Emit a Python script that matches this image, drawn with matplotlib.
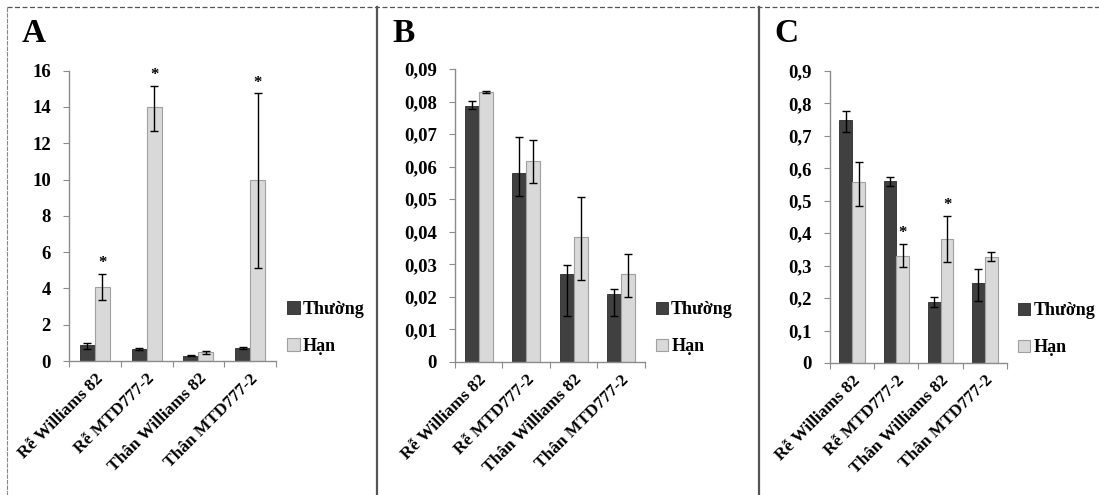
import numpy as np
import matplotlib.pyplot as plt
from matplotlib.lines import Line2D

plt.rcParams['font.family'] = ['Liberation Serif', 'DejaVu Serif']
plt.rcParams['font.weight'] = 'bold'

# 数据
categories = ['Rễ Williams 82', 'Rễ MTD777-2', 'Thân Williams 82', 'Thân MTD777-2']
series_names = ['Thường', 'Hạn']

# A
a_thuong = [0.88, 0.64, 0.28, 0.72]
a_thuong_lo = [0.24, 0.06, 0.03, 0.04]
a_thuong_hi = [0.13, 0.06, 0.03, 0.04]
a_han = [4.10, 14.02, 0.48, 9.97]
a_han_lo = [0.74, 1.35, 0.08, 4.86]
a_han_hi = [0.69, 1.13, 0.08, 4.78]
a_star = [True, True, False, True]
a_ticks = [0, 2, 4, 6, 8, 10, 12, 14, 16]
a_ticklabels = ['0', '2', '4', '6', '8', '10', '12', '14', '16']

# B
b_thuong = [0.0785, 0.0580, 0.0271, 0.0208]
b_thuong_lo = [0.0008, 0.0069, 0.0131, 0.0068]
b_thuong_hi = [0.0017, 0.0111, 0.0028, 0.0016]
b_han = [0.0829, 0.0616, 0.0384, 0.0271]
b_han_lo = [0.0002, 0.0066, 0.0131, 0.0071]
b_han_hi = [0.0002, 0.0065, 0.0123, 0.0062]
b_star = [False, False, False, False]
b_ticks = [0, 0.01, 0.02, 0.03, 0.04, 0.05, 0.06, 0.07, 0.08, 0.09]
b_ticklabels = ['0', '0,01', '0,02', '0,03', '0,04', '0,05', '0,06', '0,07', '0,08', '0,09']

# C
c_thuong = [0.748, 0.561, 0.188, 0.245]
c_thuong_lo = [0.036, 0.014, 0.016, 0.053]
c_thuong_hi = [0.029, 0.013, 0.016, 0.046]
c_han = [0.558, 0.330, 0.383, 0.328]
c_han_lo = [0.074, 0.033, 0.072, 0.015]
c_han_hi = [0.061, 0.036, 0.070, 0.014]
c_star = [False, True, True, False]
c_ticks = [0, 0.1, 0.2, 0.3, 0.4, 0.5, 0.6, 0.7, 0.8, 0.9]
c_ticklabels = ['0', '0,1', '0,2', '0,3', '0,4', '0,5', '0,6', '0,7', '0,8', '0,9']

dark = '#404040'
light = '#d9d9d9'
axis_gray = '#8c8c8c'

fig = plt.figure(figsize=(10.99, 4.95), dpi=100)

# 边框
fig.add_artist(Line2D([0.006, 1.0], [0.986, 0.986], color='#555555', lw=0.9, ls=(0, (4, 2))))
fig.add_artist(Line2D([0.006, 0.006], [0.0, 0.986], color='#888888', lw=0.8, ls=(0, (4, 1))))
fig.add_artist(Line2D([0.343, 0.343], [0.0, 0.986], color='#555555', lw=1.6))
fig.add_artist(Line2D([0.691, 0.691], [0.0, 0.986], color='#555555', lw=1.6))

panels = [
    ('A', 0.020, [0.0628, 0.2707, 0.1884, 0.5865], a_thuong, a_thuong_lo, a_thuong_hi,
     a_han, a_han_lo, a_han_hi, a_star, a_ticks, a_ticklabels),
    ('B', 0.357, [0.4140, 0.2687, 0.1729, 0.5919], b_thuong, b_thuong_lo, b_thuong_hi,
     b_han, b_han_lo, b_han_hi, b_star, b_ticks, b_ticklabels),
    ('C', 0.705, [0.7552, 0.2667, 0.1611, 0.5899], c_thuong, c_thuong_lo, c_thuong_hi,
     c_han, c_han_lo, c_han_hi, c_star, c_ticks, c_ticklabels),
]

x = np.arange(len(categories))
w = 0.29

for letter, lx, rect, th, th_lo, th_hi, hn, hn_lo, hn_hi, stars, ticks, ticklabels in panels:
    ax = fig.add_axes(rect)
    ax.bar(x - w / 2, th, w, color=dark, edgecolor='#2a2a2a', lw=0.6,
           yerr=[th_lo, th_hi], capsize=3, error_kw=dict(ecolor='black', elinewidth=1, capthick=1),
           label=series_names[0])
    ax.bar(x + w / 2, hn, w, color=light, edgecolor='#a0a0a0', lw=0.8,
           yerr=[hn_lo, hn_hi], capsize=3, error_kw=dict(ecolor='black', elinewidth=1, capthick=1),
           label=series_names[1])
    for i, s in enumerate(stars):
        if s:
            ax.annotate('*', (x[i] + w / 2, hn[i] + hn_hi[i]), xytext=(0, 2),
                        textcoords='offset points', ha='center', va='bottom', fontsize=12)

    ax.set_xlim(-0.5, 3.5)
    ax.set_ylim(ticks[0], ticks[-1])
    ax.set_yticks(ticks)
    ax.set_yticklabels(ticklabels, fontsize=13.5, fontweight='bold')
    ax.set_xticks(np.arange(-0.5, 4.0, 1.0))
    ax.set_xticklabels([])
    ax.set_xticks(x, minor=True)
    ax.set_xticklabels(categories, minor=True, rotation=45, ha='right',
                       rotation_mode='anchor', fontsize=12.5, fontweight='bold')
    ax.tick_params(axis='x', which='minor', length=0, pad=7)
    ax.tick_params(axis='x', which='major', length=4, color=axis_gray, direction='out')
    ax.tick_params(axis='y', length=4, color=axis_gray, direction='out', pad=9)
    for sp in ['top', 'right']:
        ax.spines[sp].set_visible(False)
    for sp in ['left', 'bottom']:
        ax.spines[sp].set_color(axis_gray)
        ax.spines[sp].set_linewidth(1)

    ax.legend(loc='center left', bbox_to_anchor=(1.0, 0.115), frameon=False,
              prop={'size': 13, 'weight': 'bold'}, labelspacing=1.1,
              handlelength=0.7, handleheight=0.7, handletextpad=0.15, borderaxespad=0.2)

    fig.text(lx, 0.933, letter, fontsize=24, fontweight='bold',
             ha='left', va='center')

plt.savefig('out.png', dpi=100)
